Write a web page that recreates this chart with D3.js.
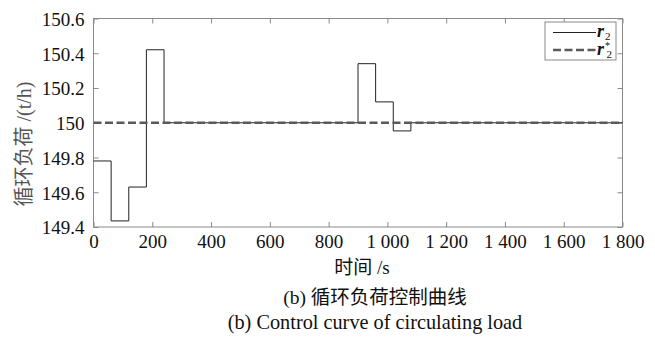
<!DOCTYPE html>
<html><head><meta charset="utf-8">
<script src="https://cdn.jsdelivr.net/npm/d3@7"></script>
<style>
html,body{margin:0;padding:0;background:#fff;}
svg{display:block;}
svg text{font-family:"Liberation Serif","Times New Roman","Noto Sans CJK SC",serif !important;}
</style></head>
<body><svg id="c" width="655" height="338"></svg>
<script>
const stepTimes = [0, 60, 120, 180, 240, 900, 960, 1020, 1080, 1800];
const r2Values = [149.78, 149.435, 149.63, 150.42, 150, 150.34, 150.12, 149.953, 150, 150];
const setTimes = [0, 1800];
const setValues = [150, 150];
const xTicks = [0, 200, 400, 600, 800, 1000, 1200, 1400, 1600, 1800];
const xTickLabels = ["0", "200", "400", "600", "800", "1 000", "1 200", "1 400", "1 600", "1 800"];
const yTicks = [149.4, 149.6, 149.8, 150, 150.2, 150.4, 150.6];
const yTickLabels = ["149.4", "149.6", "149.8", "150", "150.2", "150.4", "150.6"];

const L = 93.5, R = 622.5, T = 18.5, B = 227;
const svg = d3.select("#c");
const x = d3.scaleLinear().domain([0, 1800]).range([L, R]);
const y = d3.scaleLinear().domain([149.4, 150.6]).range([B, T]);
const axisCol = "#8a8a8a";
const fs = 19;

svg.append("rect").attr("x", L).attr("y", T).attr("width", R - L).attr("height", B - T)
  .attr("fill", "none").attr("stroke", axisCol).attr("stroke-width", 1);

const gx = svg.append("g").attr("transform", `translate(0,${B})`)
  .call(d3.axisBottom(x).tickValues(xTicks).tickSizeInner(-5).tickSizeOuter(0)
    .tickFormat((d, i) => xTickLabels[i]).tickPadding(8));
const gxt = svg.append("g").attr("transform", `translate(0,${T})`)
  .call(d3.axisTop(x).tickValues(xTicks).tickSizeInner(-5).tickSizeOuter(0).tickFormat(""));
const gy = svg.append("g").attr("transform", `translate(${L},0)`)
  .call(d3.axisLeft(y).tickValues(yTicks).tickSizeInner(-5).tickSizeOuter(0)
    .tickFormat((d, i) => yTickLabels[i]).tickPadding(9));
const gyr = svg.append("g").attr("transform", `translate(${R},0)`)
  .call(d3.axisRight(y).tickValues(yTicks).tickSizeInner(-5).tickSizeOuter(0).tickFormat(""));
[gx, gxt, gy, gyr].forEach(g => {
  g.attr("font-family", null).attr("font-size", null);
  g.select(".domain").remove();
  g.selectAll("line").attr("stroke", axisCol);
  g.selectAll("text").attr("fill", "#111").style("font-size", fs + "px");
});
gx.selectAll("text").attr("dy", "0.71em");
gy.selectAll("text").attr("dy", "0.36em");

const r2Pts = stepTimes.map((t, i) => [t, r2Values[i]]);
const setPts = setTimes.map((t, i) => [t, setValues[i]]);
svg.append("path").datum(r2Pts)
  .attr("d", d3.line().x(d => x(d[0])).y(d => y(d[1])).curve(d3.curveStepAfter))
  .attr("fill", "none").attr("stroke", "#222").attr("stroke-width", 1);
svg.append("path").datum(setPts).attr("d", d3.line().x(d => x(d[0])).y(d => y(d[1])))
  .attr("fill", "none").attr("stroke", "#5a5a5a").attr("stroke-width", 2.6)
  .attr("stroke-dasharray", "8,3.5");

// legend
const lg = svg.append("g");
lg.append("rect").attr("x", 545).attr("y", 22).attr("width", 71).attr("height", 38)
  .attr("fill", "#fff").attr("stroke", axisCol).attr("stroke-width", 1);
lg.append("line").attr("x1", 553).attr("x2", 596).attr("y1", 32.5).attr("y2", 32.5)
  .attr("stroke", "#222").attr("stroke-width", 1);
lg.append("line").attr("x1", 553).attr("x2", 596).attr("y1", 50).attr("y2", 50)
  .attr("stroke", "#5a5a5a").attr("stroke-width", 2.6).attr("stroke-dasharray", "8,3.5");

const e1 = lg.append("text").attr("x", 597).attr("y", 37).style("font-size", "18px").attr("fill", "#111");
e1.append("tspan").text("r").style("font-weight", "bold").style("font-style", "italic");
e1.append("tspan").text("2").style("font-size", "11px").attr("dx", 1).attr("dy", 3);
const e2 = lg.append("text").attr("x", 597).attr("y", 55).style("font-size", "18px").attr("fill", "#111");
e2.append("tspan").text("r").style("font-weight", "bold").style("font-style", "italic");
e2.append("tspan").text("*").style("font-size", "10px").attr("dx", 1).attr("dy", -6);
e2.append("tspan").text("2").style("font-size", "11px").attr("x", 606.5).attr("dy", 9);

// axis labels
svg.append("text").attr("transform", "translate(31,144) rotate(-90)").attr("text-anchor", "middle")
  .style("font-size", "20px").attr("fill", "#555").text("循环负荷 /(t/h)");
svg.append("text").attr("x", 362).attr("y", 274).attr("text-anchor", "middle")
  .style("font-size", fs + "px").attr("fill", "#111").text("时间 /s");
svg.append("text").attr("x", 375).attr("y", 304).attr("text-anchor", "middle")
  .style("font-size", "19.5px").attr("fill", "#111").text("(b) 循环负荷控制曲线");
svg.append("text").attr("x", 375).attr("y", 329).attr("text-anchor", "middle")
  .style("font-size", "20.3px").attr("fill", "#111").text("(b) Control curve of circulating load");
</script></body></html>
